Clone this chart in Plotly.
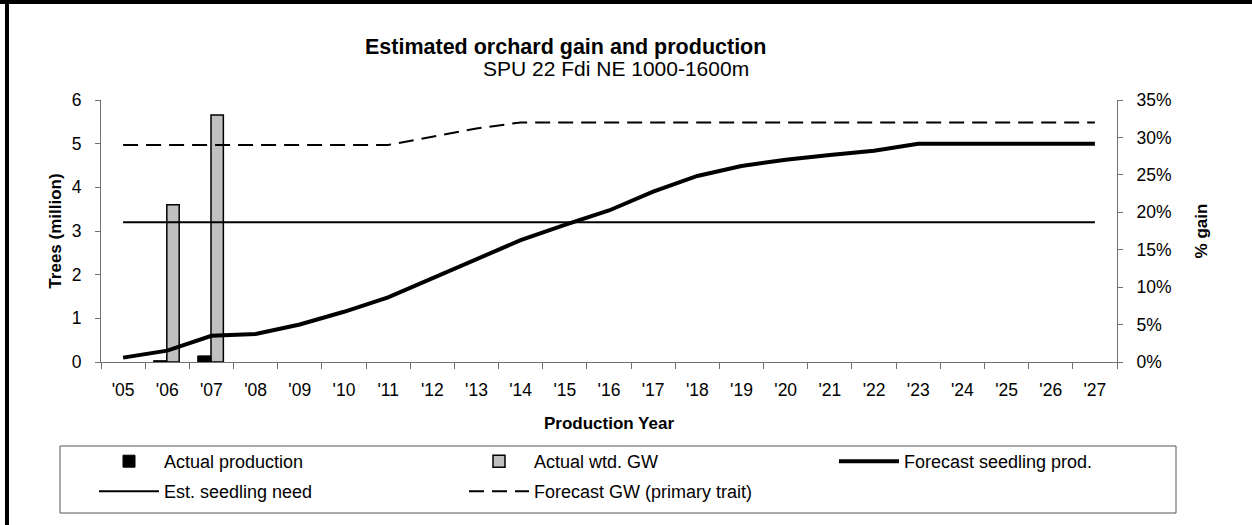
import plotly.graph_objects as go

years = ["'05", "'06", "'07", "'08", "'09", "'10", "'11", "'12", "'13", "'14", "'15", "'16",
         "'17", "'18", "'19", "'20", "'21", "'22", "'23", "'24", "'25", "'26", "'27"]

# Trees (million)
actual_production = [None, 0.03, 0.14] + [None] * 20
forecast_seedling_prod = [0.10, 0.26, 0.60, 0.64, 0.86, 1.15, 1.48, 1.92, 2.37, 2.79, 3.14, 3.47,
                          3.90, 4.26, 4.49, 4.63, 4.74, 4.84, 5.00, 5.00, 5.00, 5.00, 5.00]
est_seedling_need = [3.2] * 23

# % gain
actual_wtd_gw = [None, 0.21, 0.33] + [None] * 20
forecast_gw = [0.29, 0.29, 0.29, 0.29, 0.29, 0.29, 0.29, 0.301, 0.312, 0.32, 0.32, 0.32,
               0.32, 0.32, 0.32, 0.32, 0.32, 0.32, 0.32, 0.32, 0.32, 0.32, 0.32]

W, H = 1252, 525
L, R, T, B = 101, 1117, 100, 362
PW, PH = R - L, B - T

def px(x):
    return (x - L) / PW

def py(y):
    return (B - y) / PH

FONT = "Liberation Sans, Arial, sans-serif"
axis_col = "#707070"

fig = go.Figure()

fig.add_trace(go.Bar(x=years, y=actual_production, name="Actual production",
                     marker=dict(color="black", line=dict(color="black", width=1)),
                     offset=-0.31, width=0.30, yaxis="y2", legend="legend"))
fig.add_trace(go.Bar(x=years, y=actual_wtd_gw, name="Actual wtd. GW",
                     marker=dict(color="#c0c0c0", line=dict(color="black", width=1.5)),
                     offset=-0.01, width=0.28, yaxis="y", legend="legend"))
fig.add_trace(go.Scatter(x=years, y=forecast_seedling_prod, name="Forecast seedling prod.",
                         mode="lines", line=dict(color="black", width=4), yaxis="y2",
                         legend="legend"))
fig.add_trace(go.Scatter(x=years, y=est_seedling_need, name="Est. seedling need",
                         mode="lines", line=dict(color="black", width=2), yaxis="y2",
                         legend="legend2"))
fig.add_trace(go.Scatter(x=years, y=forecast_gw, name="Forecast GW (primary trait)",
                         mode="lines", line=dict(color="black", width=2, dash="15px,8px"),
                         yaxis="y", legend="legend2"))

legend_common = dict(orientation="h", xanchor="left", yanchor="top",
                     bgcolor="rgba(0,0,0,0)", borderwidth=0,
                     entrywidth=295, entrywidthmode="pixels", itemwidth=60,
                     font=dict(size=18), traceorder="normal")

fig.update_layout(
    width=W, height=H,
    margin=dict(l=L, r=W - R, t=T, b=H - B, pad=0),
    paper_bgcolor="white", plot_bgcolor="white",
    font=dict(family=FONT, size=17.5, color="black"),
    barmode="overlay",
    showlegend=True,
    xaxis=dict(type="category", range=[-0.5, 22.5], tickson="boundaries",
               ticks="outside", ticklen=6, tickcolor=axis_col, tickwidth=1,
               showline=True, linecolor=axis_col, linewidth=1, showgrid=False,
               tickfont=dict(size=17.5), ticklabelstandoff=12,
               title=dict(text="<b>Production Year</b>", font=dict(size=17), standoff=18)),
    yaxis=dict(side="right", range=[0, 0.35], dtick=0.05, tickformat=".0%",
               ticks="outside", ticklen=5, tickcolor=axis_col,
               showline=True, linecolor=axis_col, linewidth=1, showgrid=False, zeroline=False,
               tickfont=dict(size=17.5), ticklabelstandoff=10,
               title=dict(text="<b>% gain</b>", font=dict(size=17), standoff=24)),
    yaxis2=dict(side="left", overlaying="y", range=[0, 6], dtick=1,
                ticks="outside", ticklen=5, tickcolor=axis_col,
                showline=True, linecolor=axis_col, linewidth=1, showgrid=False, zeroline=False,
                tickfont=dict(size=17.5), ticklabelstandoff=10,
                title=dict(text="<b>Trees (million)</b>", font=dict(size=17), standoff=5)),
    legend=dict(x=px(94), y=py(443), **legend_common),
    legend2=dict(x=px(94), y=py(473), **legend_common),
    annotations=[
        dict(text="<b>Estimated orchard gain and production</b>", x=px(565), y=py(47),
             xref="paper", yref="paper", showarrow=False, font=dict(size=21.5),
             xanchor="center", yanchor="middle"),
        dict(text="SPU 22 Fdi NE 1000-1600m", x=px(616), y=py(68),
             xref="paper", yref="paper", showarrow=False, font=dict(size=21),
             xanchor="center", yanchor="middle"),
    ],
    shapes=[
        dict(type="rect", xref="paper", yref="paper", x0=px(60), x1=px(1176),
             y0=py(446), y1=py(513), fillcolor="rgba(0,0,0,0)",
             line=dict(color="#555555", width=1), layer="above"),
        dict(type="rect", xref="paper", yref="paper", x0=px(0), x1=px(W), y0=py(0), y1=py(4),
             fillcolor="black", line=dict(width=0), layer="above"),
        dict(type="rect", xref="paper", yref="paper", x0=px(5), x1=px(9), y0=py(0), y1=py(H),
             fillcolor="black", line=dict(width=0), layer="above"),
    ],
)

fig.write_html(
    "out.html",
    config={"displayModeBar": False},
    post_script="document.body.style.margin='0';document.body.style.overflow='hidden';",
)
